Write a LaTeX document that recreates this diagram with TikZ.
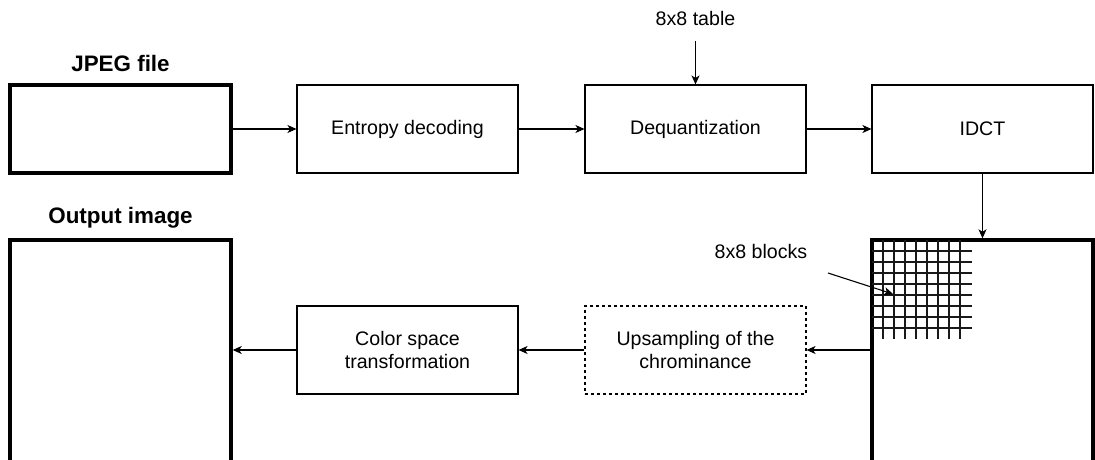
\documentclass[tikz,border=0pt]{standalone}
\usepackage{fontspec}
\setmainfont{Liberation Sans}
\usetikzlibrary{arrows.meta}
\tikzset{
  stage/.style={draw, line width=1.1pt, minimum width=221pt, minimum height=88pt,
    align=center, font=\fontsize{19.6}{23.5}\selectfont},
  picbox/.style={draw, line width=3.4pt, minimum width=221pt},
  title/.style={font=\bfseries\fontsize{22.4}{26}\selectfont},
  lbl/.style={font=\fontsize{19.6}{23.5}\selectfont},
  gridline/.style={line width=1.3pt, black!90},
}
\begin{document}
\begin{tikzpicture}[x=1pt,y=-1pt,>={Stealth[length=9pt,width=8pt,inset=2.5pt]},line width=1.1pt]
            \useasboundingbox (0,0) rectangle (1095,459);
            % top row
            \node[title] (jpegtitle) at (120.5,63) {JPEG file};
            \node[picbox, minimum height=88pt] (jpeg) at (120.5,129) {};
            \node[stage] (entropy) at (407.5,129) {Entropy decoding};
            \node[stage] (dequant) at (695.5,129) {Dequantization};
            \node[stage] (idct) at (982.5,129) {IDCT};
            \node[lbl] (table) at (695.5,18) {8x8 table};
            \coordinate (tablearr) at (695.5,41);
            \draw[->] (jpeg) -- (entropy);
            \draw[->] (entropy) -- (dequant);
            \draw[->] (dequant) -- (idct);
            \draw[->] (tablearr) -- (dequant);
            % bottom row
            \node[title] (outtitle) at (120.5,218) {Output image};
            \node[picbox, minimum height=240pt] (output) at (120.5,360) {};
            \node[picbox, minimum height=240pt] (blocks) at (982.5,360) {};
            \foreach \i in {1,...,8} {
              \draw[gridline] (872+11*\i,240) -- (872+11*\i,339);
              \draw[gridline] (872,240+11*\i) -- (972,240+11*\i);
            }
            \node[stage, dashed] (upsamp) at (695.5,350) {Upsampling of the\\chrominance};
            \node[stage] (color) at (407.5,350) {Color space\\transformation};
            \node[lbl] (blocktitle) at (761,251) {8x8 blocks};
            \coordinate (blockfrom) at (828,273);
            \coordinate (blockcell) at (893,294);
            \draw[->] (idct) -- (blocks.north);
            \draw[->] (upsamp -| blocks.west) -- (upsamp);
            \draw[->] (upsamp) -- (color);
            \draw[->] (color) -- (color -| output.east);
            \draw[->] (blockfrom) -- (blockcell);
        \end{tikzpicture}
\end{document}
